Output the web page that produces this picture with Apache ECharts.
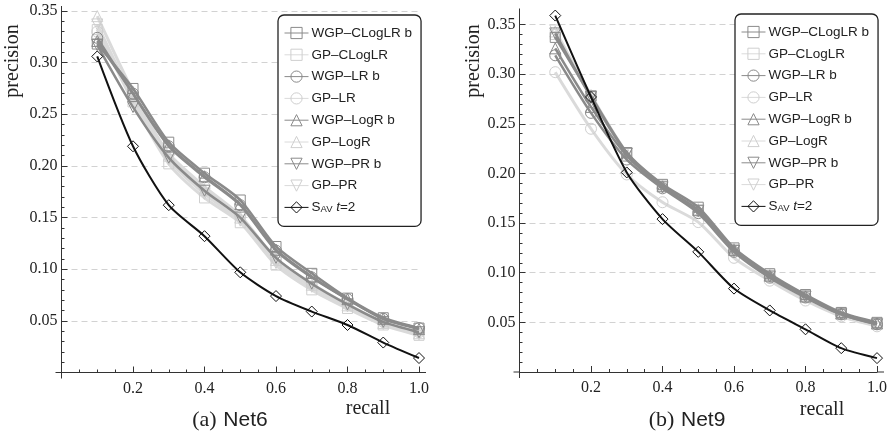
<!DOCTYPE html>
<html>
<head>
<meta charset="utf-8">
<script src="https://cdn.jsdelivr.net/npm/echarts@6/dist/echarts.min.js"></script>
<style>
html, body { margin: 0; padding: 0; background: #fff; }
#main { width: 892px; height: 434px; }
</style>
</head>
<body>
<div id="main"></div>
<script>
// recall (x)
var recall = [0.1, 0.2, 0.3, 0.4, 0.5, 0.6, 0.7, 0.8, 0.9, 1.0];

// Net6 precision
var net6WgpCLogLR = [0.318, 0.275, 0.223, 0.193, 0.167, 0.122, 0.096, 0.072, 0.053, 0.043];
var net6GpCLogLR  = [0.332, 0.262, 0.202, 0.169, 0.145, 0.104, 0.080, 0.062, 0.046, 0.036];
var net6WgpLR     = [0.324, 0.270, 0.219, 0.189, 0.162, 0.118, 0.092, 0.071, 0.052, 0.043];
var net6GpLR      = [0.330, 0.268, 0.212, 0.180, 0.152, 0.110, 0.086, 0.066, 0.049, 0.039];
var net6WgpLogR   = [0.321, 0.270, 0.220, 0.190, 0.163, 0.119, 0.093, 0.071, 0.052, 0.042];
var net6GpLogR    = [0.345, 0.272, 0.210, 0.177, 0.150, 0.109, 0.085, 0.065, 0.048, 0.038];
var net6WgpPR     = [0.317, 0.257, 0.208, 0.176, 0.150, 0.111, 0.086, 0.066, 0.049, 0.039];
var net6GpPR      = [0.337, 0.266, 0.206, 0.173, 0.147, 0.106, 0.083, 0.064, 0.047, 0.037];
var net6Sav       = [0.306, 0.219, 0.162, 0.132, 0.097, 0.074, 0.059, 0.046, 0.029, 0.014];

// Net9 precision
var net9WgpCLogLR = [0.337, 0.278, 0.221, 0.189, 0.166, 0.125, 0.099, 0.078, 0.060, 0.050];
var net9GpCLogLR  = [0.340, 0.277, 0.220, 0.187, 0.163, 0.123, 0.097, 0.076, 0.058, 0.048];
var net9WgpLR     = [0.319, 0.261, 0.214, 0.185, 0.160, 0.121, 0.095, 0.075, 0.058, 0.048];
var net9GpLR      = [0.302, 0.245, 0.199, 0.171, 0.151, 0.115, 0.092, 0.072, 0.056, 0.046];
var net9WgpLogR   = [0.326, 0.267, 0.218, 0.187, 0.163, 0.123, 0.097, 0.076, 0.059, 0.049];
var net9GpLogR    = [0.343, 0.279, 0.221, 0.188, 0.164, 0.124, 0.098, 0.077, 0.059, 0.049];
var net9WgpPR     = [0.341, 0.277, 0.220, 0.186, 0.162, 0.122, 0.096, 0.076, 0.058, 0.048];
var net9GpPR      = [0.344, 0.278, 0.220, 0.187, 0.163, 0.122, 0.097, 0.076, 0.058, 0.048];
var net9Sav       = [0.359, 0.277, 0.201, 0.154, 0.121, 0.084, 0.062, 0.043, 0.024, 0.014];

var legendNames = ['WGP–CLogLR b', 'GP–CLogLR', 'WGP–LR b', 'GP–LR', 'WGP–LogR b', 'GP–LogR', 'WGP–PR b', 'GP–PR', 'S_AV t=2'];
var captions = ['(a)', '(b)'];
var netNames = ['Net6', 'Net9'];

var SERIF = 'Liberation Serif';
var SANS = 'Liberation Sans';
var DARK = '#8a8a8a';
var LIGHT = '#dadada';
var downTri = 'path://M0,0L20,0L10,17.3Z';

function pairs(ys) {
	return recall.map(function (x, i) { return [x, ys[i]]; });
}

function line(name, ys, g, kind, symbol) {
	var c = kind == 'wgp' ? DARK : (kind == 'gp' ? LIGHT : '#111');
	var w = kind == 'wgp' ? 2.5 : (kind == 'gp' ? 3 : 2);
	return {
		name: name,
		type: 'line',
		xAxisIndex: g,
		yAxisIndex: g,
		data: pairs(ys),
		smooth: 0.25,
		clip: false,
		symbol: symbol,
		symbolSize: symbol == 'rect' ? 10 : 11,
		lineStyle: { color: c, width: w },
		itemStyle: { color: 'rgba(255,255,255,0)', borderColor: kind == 'gp' ? '#cfcfcf' : c, borderWidth: 1 },
		emphasis: { disabled: true },
		z: kind == 'gp' ? 2 : (kind == 'wgp' ? 3 : 4)
	};
}

function netSeries(g, d) {
	return [
		line(legendNames[1], d[1], g, 'gp', 'rect'),
		line(legendNames[3], d[3], g, 'gp', 'circle'),
		line(legendNames[5], d[5], g, 'gp', 'triangle'),
		line(legendNames[7], d[7], g, 'gp', downTri),
		line(legendNames[0], d[0], g, 'wgp', 'rect'),
		line(legendNames[2], d[2], g, 'wgp', 'circle'),
		line(legendNames[4], d[4], g, 'wgp', 'triangle'),
		line(legendNames[6], d[6], g, 'wgp', downTri),
		line(legendNames[8], d[8], g, 'sav', 'diamond')
	];
}

var tickColor = '#333';
function xAxis(g) {
	return {
		gridIndex: g, type: 'value', min: 0, max: 1, interval: 0.2,
		axisLine: { show: true, onZero: false, lineStyle: { color: tickColor, width: 1 } },
		axisTick: { show: true, inside: true, length: 6, lineStyle: { color: tickColor } },
		minorTick: { show: true, splitNumber: 4, length: 3, lineStyle: { color: tickColor } },
		splitLine: { show: false },
		axisLabel: {
			margin: 8, fontFamily: SERIF, fontSize: 16, color: '#222',
			formatter: function (v) { return v == 0 ? '' : v.toFixed(1); }
		}
	};
}
function yAxis(g) {
	return {
		gridIndex: g, type: 'value', min: 0, max: 0.35, interval: 0.05,
		axisLine: { show: true, onZero: false, lineStyle: { color: tickColor, width: 1 } },
		axisTick: { show: true, inside: true, length: 6, lineStyle: { color: tickColor } },
		minorTick: { show: true, splitNumber: 5, length: 3, lineStyle: { color: tickColor } },
		splitLine: { show: true, lineStyle: { type: [6, 4], color: '#d2d2d2', width: 1 } },
		axisLabel: {
			margin: 4, fontFamily: SERIF, fontSize: 16, color: '#222',
			formatter: function (v) { return v == 0 ? '' : v.toFixed(2); }
		}
	};
}

function legend(left, top) {
	return {
		left: left, top: top, orient: 'vertical',
		data: legendNames,
		selectedMode: false,
		itemWidth: 24, itemHeight: 14, itemGap: 7.8,
		padding: [11, 9, 12, 6],
		backgroundColor: '#fff',
		borderColor: '#222', borderWidth: 1.3, borderRadius: 6,
		lineStyle: { width: 1 },
		itemStyle: { borderWidth: 1 },
		formatter: function (name) {
			if (name == 'S_AV t=2') return '{s|S}{sub|AV} {it|t}=2';
			return name;
		},
		textStyle: {
			fontFamily: SANS, fontSize: 13.5, color: '#222', padding: [0, 0, 0, -2],
			rich: {
				s: { fontFamily: SANS, fontSize: 13.5, color: '#222' },
				sub: { fontFamily: SANS, fontSize: 9.5, color: '#222', verticalAlign: 'bottom', padding: [4, 0, 0, 0] },
				it: { fontFamily: SANS, fontSize: 13.5, color: '#222', fontStyle: 'italic' }
			}
		}
	};
}

var chart = echarts.init(document.getElementById('main'), null, { renderer: 'canvas' });

var option = {
	backgroundColor: '#fff',
	animation: false,
	grid: [
		{ left: 61.5, top: 11, width: 357.5, height: 361.5 },
		{ left: 519.5, top: 24.5, width: 357.5, height: 347.5 }
	],
	xAxis: [xAxis(0), xAxis(1)],
	yAxis: [yAxis(0), yAxis(1)],
	legend: [legend(278, 15), legend(735, 14)],
	series: netSeries(0, [net6WgpCLogLR, net6GpCLogLR, net6WgpLR, net6GpLR, net6WgpLogR, net6GpLogR, net6WgpPR, net6GpPR, net6Sav])
		.concat(netSeries(1, [net9WgpCLogLR, net9GpCLogLR, net9WgpLR, net9GpLR, net9WgpLogR, net9GpLogR, net9WgpPR, net9GpPR, net9Sav]))
};
chart.setOption(option);

// 坐标轴两端伸出的一小段 + 文字
var graphics = [];
var topExt = [5, 16];
var labelPos = [
	{ prec: [13, 61], rec: [368, 409], cap: [230, 420] },
	{ prec: [474, 61], rec: [822, 410], cap: [687, 420] }
];
for (var g = 0; g < 2; g++) {
	var o = chart.convertToPixel({ gridIndex: g }, [0, 0]);
	var e = chart.convertToPixel({ gridIndex: g }, [1, 0.35]);
	var ls = { stroke: tickColor, lineWidth: 1 };
	graphics.push({ type: 'line', shape: { x1: o[0], y1: e[1], x2: o[0], y2: e[1] - topExt[g] }, style: ls });
	graphics.push({ type: 'line', shape: { x1: o[0], y1: o[1], x2: o[0], y2: o[1] + 6 }, style: ls });
	graphics.push({ type: 'line', shape: { x1: o[0] - 6, y1: o[1], x2: o[0], y2: o[1] }, style: ls });
	graphics.push({ type: 'line', shape: { x1: e[0], y1: o[1], x2: e[0] + 7, y2: o[1] }, style: ls });
	var p = labelPos[g];
	graphics.push({ type: 'text', x: p.prec[0], y: p.prec[1], rotation: Math.PI / 2,
		style: { text: 'precision', font: '20px "' + SERIF + '"', fill: '#222', align: 'center', verticalAlign: 'middle' } });
	graphics.push({ type: 'text', x: p.rec[0], y: p.rec[1],
		style: { text: 'recall', font: '20px "' + SERIF + '"', fill: '#222', align: 'center', verticalAlign: 'middle' } });
	graphics.push({ type: 'text', x: p.cap[0], y: p.cap[1],
		style: {
			text: '{p|' + captions[g] + '}  {n|' + netNames[g] + '}', align: 'center', verticalAlign: 'middle',
			rich: {
				p: { fontFamily: SERIF, fontSize: 22, fill: '#222' },
				n: { fontFamily: SANS, fontSize: 21, fill: '#222' }
			}
		} });
}
chart.setOption({ graphic: graphics });
</script>
</body>
</html>
